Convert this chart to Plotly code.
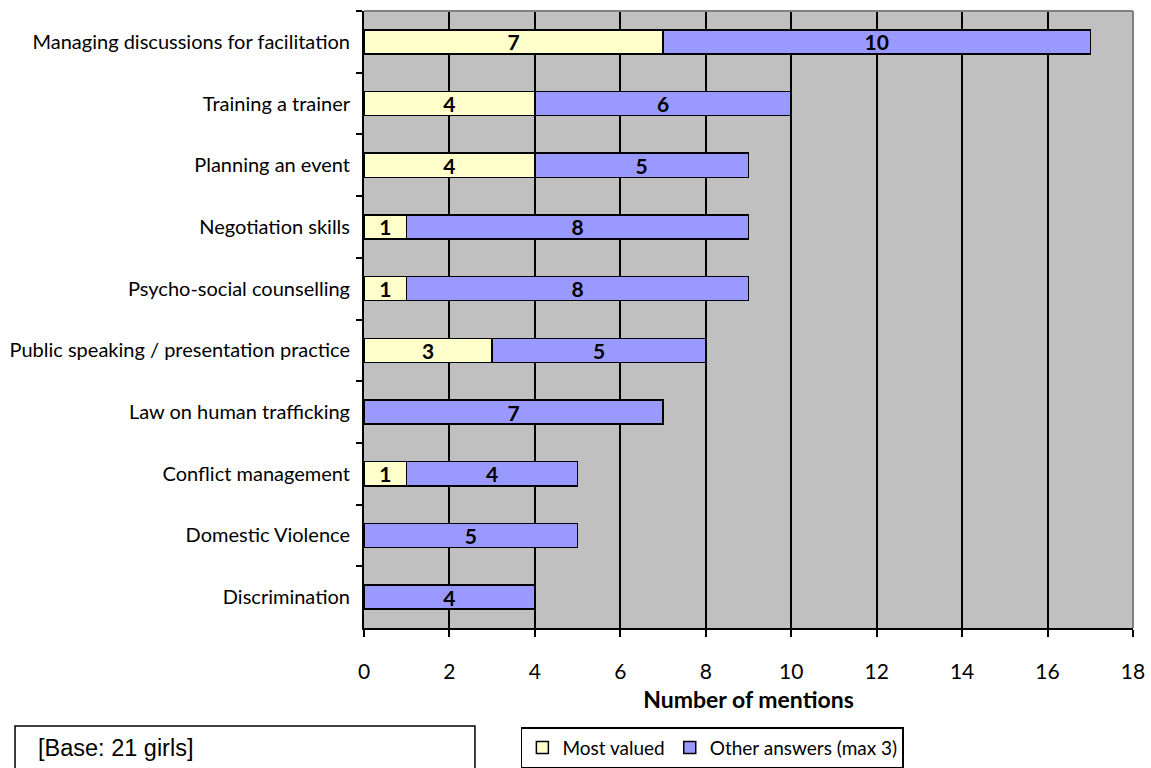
import plotly.graph_objects as go

# Training topics, listed top to bottom
topics = [
    "Managing discussions for facilitation",
    "Training a trainer",
    "Planning an event",
    "Negotiation skills",
    "Psycho-social counselling",
    "Public speaking / presentation practice",
    "Law on human trafficking",
    "Conflict management",
    "Domestic Violence",
    "Discrimination",
]
most_valued = [7, 4, 4, 1, 1, 3, None, 1, None, None]
other_answers = [10, 6, 5, 8, 8, 5, 7, 4, 5, 4]
x_ticks = [0, 2, 4, 6, 8, 10, 12, 14, 16, 18]

LABEL_FONT = "Lato, 'Open Sans', sans-serif"


def stacked_bar(values, name, color):
    return go.Bar(
        y=topics, x=values, orientation="h", name=name,
        marker=dict(color=color, line=dict(color="black", width=1.5)),
        text=values, texttemplate="<b>%{x}</b>", textposition="inside",
        insidetextanchor="middle", textangle=0, constraintext="none",
        textfont=dict(family=LABEL_FONT, size=21, color="black"),
    )


fig = go.Figure()
fig.add_trace(stacked_bar(most_valued, "Most valued", "#FFFFCC"))
fig.add_trace(stacked_bar(other_answers, "Other answers (max 3)", "#9999FF"))

fig.update_layout(
    width=1151, height=768,
    margin=dict(l=364, r=18, t=11, b=140, autoexpand=False),
    barmode="stack", bargap=0.61,
    paper_bgcolor="white", plot_bgcolor="#C0C0C0",
    font=dict(family=LABEL_FONT, size=19, color="black"),
    showlegend=True,
    legend=dict(
        orientation="h", x=0.204, y=-0.1605, xanchor="left", yanchor="top",
        bordercolor="black", borderwidth=1.5, bgcolor="white",
        font=dict(family=LABEL_FONT, size=19, color="black"),
        traceorder="normal", itemwidth=30,
    ),
    xaxis=dict(
        range=[0, 18], tickvals=x_ticks, ticktext=[str(v) for v in x_ticks],
        showgrid=True, gridcolor="black", gridwidth=2,
        showline=True, linecolor="black", linewidth=2,
        ticks="outside", ticklen=7, tickwidth=2, tickcolor="black",
        tickfont=dict(family=LABEL_FONT, size=21),
        ticklabelstandoff=17, automargin=False,
        zeroline=False,
        title=dict(text="<b>Number of mentions</b>", standoff=10,
                   font=dict(family=LABEL_FONT, size=23)),
    ),
    yaxis=dict(
        categoryorder="array", categoryarray=topics, autorange="reversed",
        showline=True, linecolor="black", linewidth=2,
        ticks="outside", tickson="boundaries", ticklen=6, tickwidth=2,
        tickcolor="black", showgrid=False, automargin=False,
        tickfont=dict(family=LABEL_FONT, size=20),
        ticklabelstandoff=8,
    ),
    shapes=[
        # grey frame on the top and right edges of the plot area
        dict(type="line", xref="paper", yref="paper", x0=0, x1=1, y0=1, y1=1,
             line=dict(color="#808080", width=2), layer="above"),
        dict(type="line", xref="paper", yref="paper", x0=1, x1=1, y0=0, y1=1,
             line=dict(color="#808080", width=2), layer="above"),
        # box around the base note
        dict(type="rect", xref="paper", yref="paper",
             x0=-0.4538, x1=0.1443, y0=-0.1588, y1=-0.25,
             line=dict(color="black", width=1.5), fillcolor="rgba(0,0,0,0)"),
    ],
    annotations=[
        dict(text="[Base: 21 girls]", xref="paper", yref="paper",
             x=-0.4265, y=-0.195, xanchor="left", yanchor="middle",
             showarrow=False,
             font=dict(family="'Liberation Sans', Arial, sans-serif",
                       size=23.5, color="black")),
    ],
)

fig.write_html("out.html")
